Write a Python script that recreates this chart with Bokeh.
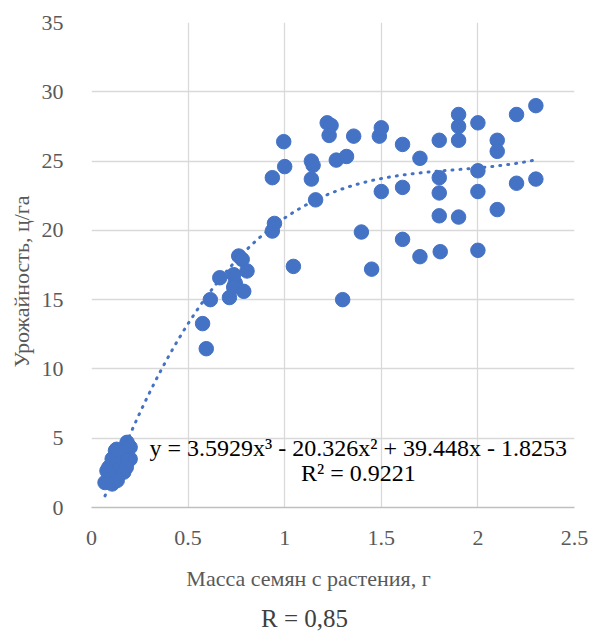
import numpy as np
from bokeh.plotting import figure
from bokeh.layouts import column
from bokeh.models import ColumnDataSource, Label, FixedTicker
from bokeh.core.properties import value
from bokeh.embed import file_html
from bokeh.resources import INLINE

# Seed mass per plant (g) and yield (c/ha)
seed_mass = [
    0.07, 0.08, 0.09, 0.107, 0.107, 0.116, 0.124, 0.142, 0.107, 0.133,
    0.15, 0.159, 0.167, 0.184, 0.20, 0.20, 0.184, 0.18, 0.13,
    0.575, 0.594, 0.615, 0.664, 0.714, 0.736, 0.744, 0.736, 0.762, 0.78,
    0.788, 0.805,
    0.936, 0.936, 0.947, 0.995, 1.0, 1.045, 1.138, 1.147, 1.138, 1.16,
    1.22, 1.24, 1.23, 1.267, 1.30, 1.32, 1.357, 1.397, 1.45, 1.49, 1.50,
    1.50, 1.61, 1.61, 1.61, 1.70, 1.70, 1.80, 1.80, 1.80, 1.80, 1.805,
    1.90, 1.90, 1.90, 1.90, 2.0, 2.0, 2.0, 2.0, 2.1, 2.1, 2.1, 2.2, 2.2,
    2.3, 2.3,
]
yield_cha = [
    1.8, 2.65, 2.9, 2.16, 1.7, 2.9, 4.1, 3.85, 3.5, 1.95,
    2.9, 3.6, 2.55, 4.7, 4.35, 3.5, 3.37, 2.9, 4.2,
    13.27, 11.46, 15.0, 16.58, 15.15, 16.8, 16.2, 15.9, 18.15, 17.9,
    15.6, 17.07,
    23.8, 19.95, 20.5, 26.4, 24.6, 17.4, 25.0, 24.7, 23.7, 22.2,
    27.76, 27.57, 26.85, 25.07, 15.0, 25.33, 26.8, 19.88, 17.2, 26.8, 27.4,
    22.8, 26.2, 23.1, 19.35, 25.2, 18.1, 26.5, 23.8, 22.7, 21.05, 18.46,
    28.36, 27.5, 26.5, 20.96, 27.76, 24.3, 22.8, 18.56, 26.5, 25.7, 21.5,
    28.36, 23.4, 29.0, 23.7,
]

# Cubic trend coefficients (highest power first)
trend_coef = [3.5929, -20.326, 39.448, -1.8253]
r_squared = 0.9221
r_value = "0,85"

x_ticks = [0, 0.5, 1, 1.5, 2, 2.5]
x_tick_labels = ["0", "0.5", "1", "1.5", "2", "2.5"]
y_ticks = [0, 5, 10, 15, 20, 25, 30, 35]

FONT = "Liberation Serif"
BLUE = "#4472C4"
GRAY = "#595959"
WIDTH = 591
BORDER_L, BORDER_R = 91, 17
NOTE_H = 73

p = figure(
    width=WIDTH, height=558,
    x_range=(0, 2.5), y_range=(0, 35),
    min_border_left=BORDER_L, min_border_right=BORDER_R,
    min_border_top=22, min_border_bottom=51,
    output_backend="svg", toolbar_location=None,
)
p.outline_line_color = None
p.background_fill_color = "white"
p.border_fill_color = "white"

# Grid
p.xgrid.ticker = FixedTicker(ticks=x_ticks)
p.ygrid.ticker = FixedTicker(ticks=y_ticks)
for g in (p.xgrid, p.ygrid):
    g.grid_line_color = "#D9D9D9"
    g.grid_line_width = 1.3

# Axes
p.xaxis.ticker = FixedTicker(ticks=x_ticks)
p.xaxis.major_label_overrides = {t: s for t, s in zip(x_ticks, x_tick_labels)}
p.yaxis.ticker = FixedTicker(ticks=y_ticks)
for ax in (p.xaxis, p.yaxis):
    ax.major_tick_line_color = None
    ax.minor_tick_line_color = None
    ax.major_label_text_font = FONT
    ax.major_label_text_font_size = "22px"
    ax.major_label_text_color = GRAY
p.xaxis.axis_line_color = "#BFBFBF"
p.xaxis.axis_line_width = 1.3
p.yaxis.axis_line_color = None
p.xaxis.major_label_standoff = 17
p.yaxis.major_label_standoff = 22

# Trailing no-break spaces nudge the rotated title down to the frame's middle
p.yaxis.axis_label = "Урожайность, ц/га" + "\u00a0" * 6
p.yaxis.axis_label_text_font = FONT
p.yaxis.axis_label_text_font_size = "22px"
p.yaxis.axis_label_text_font_style = "normal"
p.yaxis.axis_label_text_color = GRAY
p.yaxis.axis_label_standoff = 5

# Trend line
xt = np.linspace(min(seed_mass), max(seed_mass), 300)
yt = np.polyval(trend_coef, xt)
p.line(xt, yt, line_color=BLUE, line_width=3, line_dash="1 7", line_cap="round")

# Scatter
src = ColumnDataSource(dict(x=seed_mass, y=yield_cha))
p.scatter("x", "y", source=src, size=14.5, fill_color=BLUE, line_color=BLUE)

# Equation label
eq1 = "y = {:.4f}x³ - {:.3f}x² + {:.3f}x - {:.4f}".format(
    trend_coef[0], -trend_coef[1], trend_coef[2], -trend_coef[3])
eq2 = "R² = {:.4f}".format(r_squared)
for txt, yy in ((eq1, 4.31), (eq2, 2.5)):
    p.add_layout(Label(x=1.381, y=yy, text=txt, text_font=FONT,
                       text_font_size="24px", text_color="black",
                       text_align="center", text_baseline="middle"))

# Strip below the chart: x-axis title and correlation note.
# Its frame lines up with the chart frame, so the range is given in page pixels.
note = figure(
    width=WIDTH, height=NOTE_H,
    x_range=(BORDER_L, WIDTH - BORDER_R), y_range=(NOTE_H, 0),
    min_border_left=BORDER_L, min_border_right=BORDER_R,
    min_border_top=0, min_border_bottom=0,
    x_axis_location=None, y_axis_location=None,
    output_backend="svg", toolbar_location=None,
)
note.outline_line_color = None
note.grid.visible = False
note.text(x=[308], y=[20], text=["Масса семян с растения, г"],
          text_font=value(FONT), text_font_size="22px", text_color=GRAY,
          text_align="center", text_baseline="middle")
note.text(x=[304], y=[60], text=["R = " + r_value],
          text_font=value(FONT), text_font_size="25px", text_color="#404040",
          text_align="center", text_baseline="middle")

layout = column(p, note, spacing=0)
open("out.html", "w").write(file_html(layout, INLINE))
